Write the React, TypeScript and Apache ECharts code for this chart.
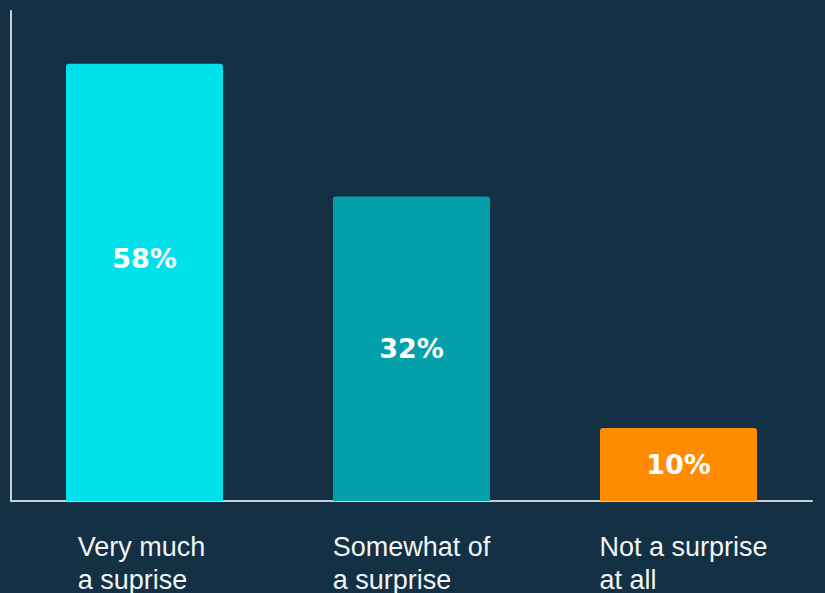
import React, { useEffect, useRef } from "react";
import * as echarts from "echarts";

const categories = ["Very much\na suprise", "Somewhat of\na surprise", "Not a surprise\nat all"];
// bar heights as drawn (the picture's bars are not proportional to their labels)
const barValues = [58, 40.4, 9.7];
const valueLabels = ["58%", "32%", "10%"];
const barColors = ["#00E2EB", "#02A0A9", "#FF8C00"];
const yMax = 65;

const labelStyles = ["a0", "a1", "a2"];

export default function App() {
  const ref = useRef<HTMLDivElement>(null);
  useEffect(() => {
    if (!ref.current) return;
    const chart = echarts.init(ref.current, undefined, { renderer: "svg" });
    const base = {
      align: "left",
      color: "#f2f4f5",
      fontFamily: "Liberation Sans",
      fontSize: 27,
      lineHeight: 33,
    };
    chart.setOption({
      animation: false,
      backgroundColor: "#133044",
      grid: { left: 11, right: 13, top: 11, bottom: 92, containLabel: false },
      xAxis: {
        type: "category",
        data: categories,
        axisLine: { show: true, lineStyle: { color: "#c9cdd1", width: 2 } },
        axisTick: { show: false },
        axisLabel: {
          margin: 29,
          interval: 0,
          formatter: (v: string, idx: number) =>
            v
              .split("\n")
              .map((l) => "{" + labelStyles[idx] + "|" + l + "}")
              .join("\n"),
          rich: {
            a0: { ...base, padding: [0, 6, 0, 0] },
            a1: { ...base },
            a2: { ...base, padding: [0, 0, 0, 10] },
          },
        },
      },
      yAxis: {
        type: "value",
        min: 0,
        max: yMax,
        axisLine: { show: true, lineStyle: { color: "#c9cdd1", width: 2 } },
        axisTick: { show: false },
        axisLabel: { show: false },
        splitLine: { show: false },
      },
      series: [
        {
          type: "bar",
          barWidth: 157,
          data: barValues.map((v, i) => ({
            value: v,
            itemStyle: { color: barColors[i], borderRadius: [3, 3, 0, 0] },
            label: {
              show: true,
              position: "inside",
              offset: i === 0 ? [0, -24] : [0, 0],
              formatter: () => valueLabels[i],
              color: "#ffffff",
              fontFamily: "DejaVu Sans",
              fontWeight: "bold",
              fontSize: 27,
            },
          })),
        },
      ],
    });
    return () => chart.dispose();
  }, []);
  return (
    <div
      ref={ref}
      style={{ position: "absolute", left: 0, top: 0, width: 825, height: 593 }}
    />
  );
}
